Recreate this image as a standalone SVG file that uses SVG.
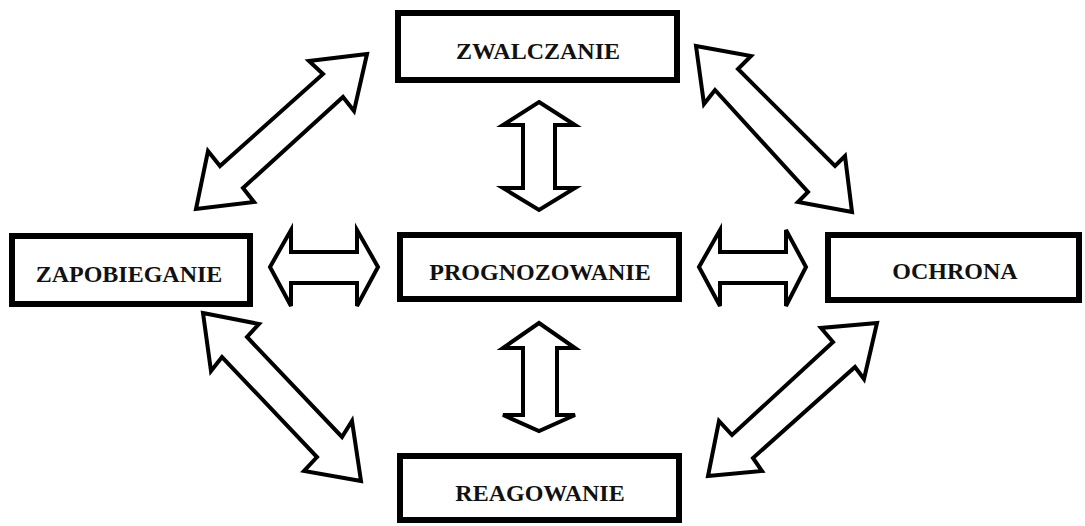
<svg xmlns="http://www.w3.org/2000/svg" width="1085" height="526" viewBox="0 0 1085 526">
<style>
.box{fill:#fff;stroke:#000;stroke-width:6}
.lbl{font-family:"Liberation Serif","Times New Roman",serif;font-weight:bold;font-size:24px;fill:#111;text-anchor:middle}
.arr{fill:#fff;stroke:#000;stroke-width:4;stroke-linejoin:miter}
</style>
<rect width="1085" height="526" fill="#fff"/>
<g id="connectors">
<polygon class="arr" points="367,54 309,61 323,74 220,166 208,151 196,209 254,202 243,188 343,97 354,111"/>
<polygon class="arr" points="696,46 751,56 738,69 835,166 845,156 852,212 798,202 808,192 715,90 704,104"/>
<polygon class="arr" points="203,313 259,324 247,337 342,437 352,421 361,481 304,471 317,457 222,357 211,371"/>
<polygon class="arr" points="877,323 821,328 833,342 732,435 719,421 708,476 762,471 753,458 855,367 864,379"/>
<polygon class="arr" points="270,267 291,230 291,252 357,252 357,230 378,267 357,306 357,283 291,283 291,306"/>
<polygon class="arr" points="699,267 720,230 720,252 786,252 786,230 806,267 786,306 786,283 720,283 720,306"/>
<polygon class="arr" points="539,102 575,125 555,125 555,188 575,188 539,210 503,188 523,188 523,125 503,125"/>
<polygon class="arr" points="539,323 575,348 557,348 557,415 575,415 539,431 503,415 523,415 523,348 503,348"/>
</g>
<g id="zwalczanie"><rect class="box" x="398" y="13" width="279" height="67"/><text class="lbl" x="538" y="59">ZWALCZANIE</text></g>
<g id="zapobieganie"><rect class="box" x="12" y="236" width="238" height="68"/><text class="lbl" x="129" y="282">ZAPOBIEGANIE</text></g>
<g id="prognozowanie"><rect class="box" x="400" y="235" width="279" height="64"/><text class="lbl" x="540" y="280">PROGNOZOWANIE</text></g>
<g id="ochrona"><rect class="box" x="828" y="235" width="251" height="65"/><text class="lbl" x="955" y="279">OCHRONA</text></g>
<g id="reagowanie"><rect class="box" x="400" y="456" width="279" height="64"/><text class="lbl" x="540" y="501">REAGOWANIE</text></g>
</svg>
